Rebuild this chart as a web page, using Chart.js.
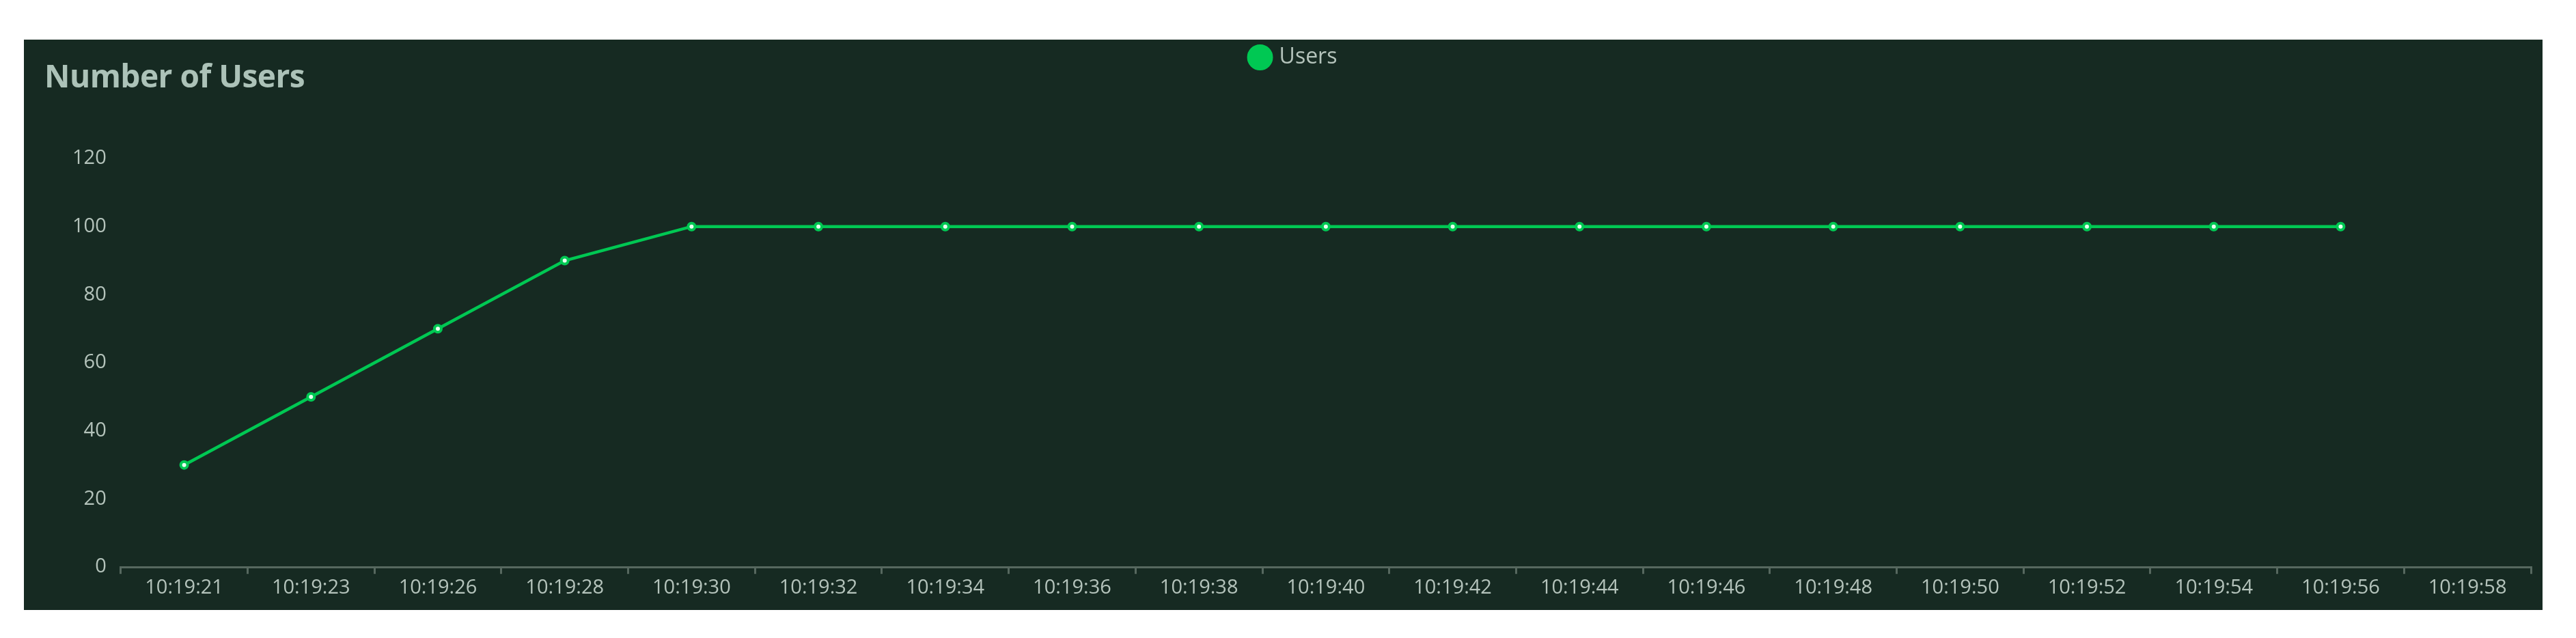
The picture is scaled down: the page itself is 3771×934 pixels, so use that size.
<!DOCTYPE html>
<html>
<head>
<meta charset="utf-8">
<script src="https://cdn.jsdelivr.net/npm/chart.js@4"></script>
<style>
    html, body { margin: 0; padding: 0; background: #ffffff; }
    .card {
        position: absolute;
        left: 35px;
        top: 58px;
        width: 3687px;
        height: 835px;
        background: #162a22;
    }
    .card h2 {
        position: absolute;
        left: 30px;
        top: 29px;
        margin: 0;
        font-family: "Open Sans", sans-serif;
        font-weight: 700;
        font-size: 46px;
        line-height: 1;
        color: #acc2b8;
        letter-spacing: -0.5px;
    }
    #usersChart { position: absolute; left: 0; top: 0; }
</style>
</head>
<body>
<div class="card">
    <canvas id="usersChart" width="3687" height="835"></canvas>
    <h2>Number of Users</h2>
</div>
<script>
const timeLabels = ['10:19:21', '10:19:23', '10:19:26', '10:19:28', '10:19:30', '10:19:32', '10:19:34',
    '10:19:36', '10:19:38', '10:19:40', '10:19:42', '10:19:44', '10:19:46', '10:19:48', '10:19:50',
    '10:19:52', '10:19:54', '10:19:56', '10:19:58'];
const userCounts = [30, 50, 70, 90, 100, 100, 100, 100, 100, 100, 100, 100, 100, 100, 100, 100, 100, 100, null];
const yTicks = [0, 20, 40, 60, 80, 100, 120];

const green = '#00c853';
const labelColor = '#b4c3bb';
const axisColor = '#56685f';

// push the plot down below the legend / card title
const legendSpacer = {
    id: 'legendSpacer',
    beforeInit(chart) {
        const fit = chart.legend.fit;
        chart.legend.fit = function () {
            fit.bind(chart.legend)();
            this.height += 122;
        };
    }
};

const ctx = document.getElementById('usersChart').getContext('2d');
const usersChart = new Chart(ctx, {
    type: 'line',
    data: {
        labels: timeLabels,
        datasets: [{
            label: 'Users',
            data: userCounts,
            borderColor: green,
            backgroundColor: green,
            borderWidth: 4.5,
            pointRadius: 5,
            pointBorderWidth: 4,
            pointBackgroundColor: '#e8fff0',
            pointBorderColor: green,
            tension: 0
        }]
    },
    options: {
        responsive: false,
        animation: false,
        layout: { padding: { left: 50, right: 17, top: 0, bottom: 12 } },
        plugins: {
            legend: {
                position: 'top',
                labels: {
                    usePointStyle: true,
                    pointStyle: 'circle',
                    boxWidth: 24,
                    boxHeight: 24,
                    color: labelColor,
                    font: { family: 'Open Sans', size: 32 },
                    generateLabels(chart) {
                        const items = Chart.defaults.plugins.legend.labels.generateLabels(chart);
                        items.forEach(i => { i.fillStyle = green; i.strokeStyle = green; });
                        return items;
                    }
                }
            },
            tooltip: { enabled: false }
        },
        scales: {
            x: {
                offset: true,
                grid: {
                    offset: true,
                    drawOnChartArea: false,
                    drawTicks: true,
                    tickLength: 10,
                    color: axisColor,
                    lineWidth: 3
                },
                border: { display: true, color: axisColor, width: 3 },
                ticks: {
                    color: labelColor,
                    padding: 3,
                    maxRotation: 0,
                    autoSkip: false,
                    font: { family: 'Open Sans', size: 29 }
                }
            },
            y: {
                min: 0,
                max: 120,
                afterBuildTicks(axis) { axis.ticks = yTicks.map(v => ({ value: v })); },
                grid: { display: false, drawTicks: false },
                border: { display: false },
                ticks: {
                    color: labelColor,
                    padding: 21,
                    font: { family: 'Open Sans', size: 29 }
                }
            }
        }
    },
    plugins: [legendSpacer]
});
</script>
</body>
</html>
